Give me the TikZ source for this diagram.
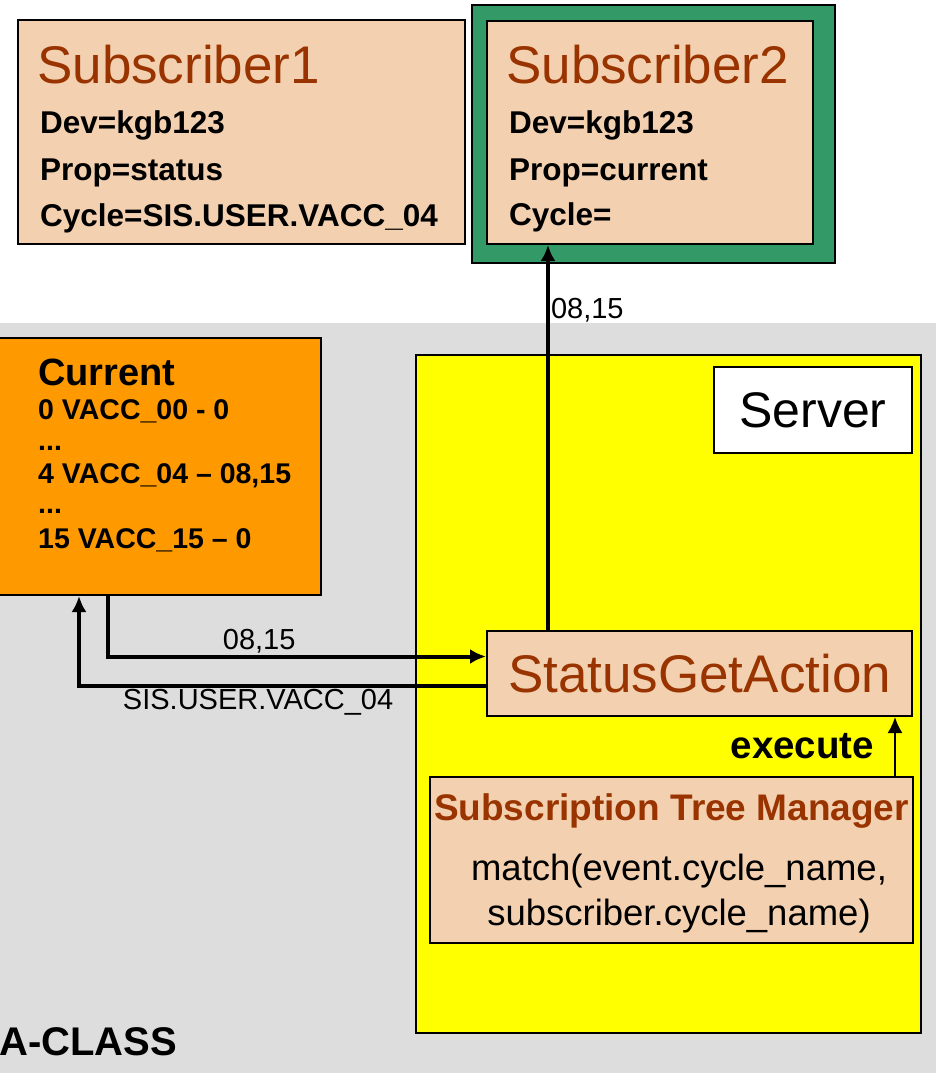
\documentclass[tikz,border=0pt]{standalone}
\usepackage{fontspec}
\setmainfont{Liberation Sans}
\usetikzlibrary{arrows.meta, positioning}

\definecolor{peach}{RGB}{243,209,176}
\definecolor{brn}{RGB}{153,51,0}
\definecolor{grn}{RGB}{51,153,102}
\definecolor{orng}{RGB}{255,153,0}
\definecolor{ylw}{RGB}{255,255,0}
\definecolor{bg}{RGB}{221,221,221}

\newcommand{\pxfont}[1]{\fontsize{#1}{#1}\selectfont}

\tikzset{
  box/.style={draw, line width=2pt, inner sep=0pt},
  conn/.style={line width=4pt, -{Latex[length=16pt,width=15pt]}},
  thinconn/.style={line width=2pt, -{Latex[length=16pt,width=15pt]}},
  txt/.style={anchor=base west, inner sep=0pt},
  title/.style={font=\pxfont{53}, text=brn},
  field/.style={font=\bfseries\pxfont{31.5}},
  rowtxt/.style={txt, font=\bfseries\pxfont{28.5}},
  lbl/.style={font=\pxfont{29}, inner sep=1pt}
}

\begin{document}
\begin{tikzpicture}[x=1pt, y=-1pt]
  \useasboundingbox (0,0) rectangle (936,1073);
  \clip (0,0) rectangle (936,1073);
  \fill [bg] (0,323) rectangle (936,1073);

  % subscribers
  \node (sub1) at (241.5,132) [box, fill=peach, minimum width=447pt, minimum height=224pt] {};
  \node (sub2) at (653.5,134) [box, fill=grn, minimum width=363pt, minimum height=258pt] {};
  \node (sub2in) at (650,132.5) [box, fill=peach, minimum width=326pt, minimum height=223pt] {};

  % data and server
  \node (cur) at (155.5,466.5) [box, fill=orng, minimum width=331pt, minimum height=257pt] {};
  \node (srv) at (668.5,694) [box, fill=ylw, minimum width=505pt, minimum height=678pt] {};
  \node (srvlbl) at (813,410) [box, fill=white, minimum width=198pt, minimum height=86pt, font=\pxfont{50}] {Server};
  \node (sga) at (699.5,673.5) [box, fill=peach, minimum width=425pt, minimum height=85pt, font=\pxfont{53}, text=brn] {StatusGetAction};
  \node (stm) at (671.5,860) [box, fill=peach, minimum width=483pt, minimum height=166pt] {};

  % connectors
  \draw [conn] ([xshift=-47.5pt]cur.south) |- ([yshift=17pt]sga.west)
    node (lblval) [lbl, pos=0.7, above] {08,15};
  \draw [conn] ([yshift=-12.5pt]sga.west) -| ([xshift=-76.5pt]cur.south)
    node (lblcyc) [lbl, pos=0.28, below] {SIS.USER.VACC\_04};
  \draw [conn] ([xshift=-151.5pt]sga.north) -- ([xshift=-102pt]sub2in.south)
    node (lblsub) [lbl, pos=0.83, right] {08,15};
  \draw [thinconn] ([xshift=223.5pt]stm.north) -- ([xshift=195.5pt]sga.south)
    node (exe) [midway, left=20pt, inner sep=0pt, font=\bfseries\pxfont{38.5}] {execute};

  % texts
  \node (s1name) at (37,83) [txt, title] {Subscriber1};
  \node (s1dev) at (40,133) [txt, field] {Dev=kgb123};
  \node (s1prop) at (40,180) [txt, field] {Prop=status};
  \node (s1cyc) at (40,226) [txt, field] {Cycle=SIS.USER.VACC\_04};

  \node (s2name) at (506,83) [txt, title] {Subscriber2};
  \node (s2dev) at (509,133) [txt, field] {Dev=kgb123};
  \node (s2prop) at (509,180) [txt, field] {Prop=current};
  \node (s2cyc) at (509,225) [txt, field] {Cycle=};

  \node (curname) at (38,385) [txt, font=\bfseries\pxfont{38}] {Current};
  \node (cur0) at (38,419) [rowtxt] {0 VACC\_00 - 0};
  \node (curdotsa) at (38,450) [rowtxt] {...};
  \node (cur4) at (38,483) [rowtxt] {4 VACC\_04 -- 08,15};
  \node (curdotsb) at (38,513) [rowtxt] {...};
  \node (cur15) at (38,548) [rowtxt] {15 VACC\_15 -- 0};

  \node (stmname) at (671.5,820) [anchor=base, inner sep=0pt, font=\bfseries\pxfont{37}, text=brn] {Subscription Tree Manager};
  \node (stmmatch) at (679,880) [anchor=base, inner sep=0pt, font=\pxfont{36.5}] {match(event.cycle\_name,};
  \node (stmsub) at (679,925) [anchor=base, inner sep=0pt, font=\pxfont{36.5}] {subscriber.cycle\_name)};

  \node (cls) at (-1,1055) [txt, font=\bfseries\pxfont{40}] {A-CLASS};
\end{tikzpicture}
\end{document}
